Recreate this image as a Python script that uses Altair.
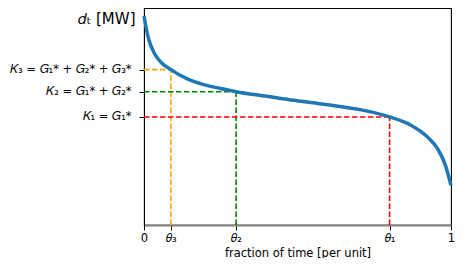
import altair as alt
import pandas as pd

# load duration curve samples (x: fraction of time, y: normalized demand)
curve_x = [0.0, 0.0137, 0.035, 0.056, 0.0876, 0.141, 0.194, 0.246, 0.30, 0.40, 0.469, 0.55, 0.638, 0.72, 0.80, 0.871, 0.924, 0.956, 0.982, 1.0]
curve_y = [0.963, 0.864, 0.788, 0.749, 0.716, 0.673, 0.647, 0.630, 0.614, 0.593, 0.578, 0.563, 0.546, 0.527, 0.498, 0.459, 0.405, 0.352, 0.275, 0.183]

levels = ["K3", "K2", "K1"]
level_y = [0.716, 0.614, 0.498]
thetas = [0.0876, 0.30, 0.80]
level_colors = ["#FFA500", "#008000", "#FF0000"]

y_labels = ["𝐾₃ = 𝐺₁* + 𝐺₂* + 𝐺₃*", "𝐾₂ = 𝐺₁* + 𝐺₂*", "𝐾₁ = 𝐺₁*"]
x_tick_vals = [0.0, thetas[0], thetas[1], thetas[2], 1.0]
x_tick_labels = ["0", "𝜃₃", "𝜃₂", "𝜃₁", "1"]

curve = pd.DataFrame({"x": curve_x, "y": curve_y})

seg_rows = []
for name, k, th in zip(levels, level_y, thetas):
    seg_rows.append({"lvl": name, "x": 0.0, "x2": th, "y": k, "y2": k})
    seg_rows.append({"lvl": name, "x": th, "x2": th, "y": 0.0, "y2": k})
segs = pd.DataFrame(seg_rows)

def label_expr(vals, labels, default="''"):
    expr = default
    for v, l in zip(vals, labels):
        expr = f"abs(datum.value - {v}) < 0.005 ? '{l}' : " + expr
    return expr

xscale = alt.Scale(domain=[0, 1], nice=False, zero=False)
yscale = alt.Scale(domain=[0, 1], nice=False, zero=False)

x_axis = alt.Axis(
    values=x_tick_vals,
    labelExpr=label_expr(x_tick_vals, x_tick_labels),
    labelFlush=False,
    title="fraction of time [per unit]",
    titleBaseline="alphabetic",
    titleY=31,
    grid=False,
    domainColor="#808080",
    domainWidth=2,
    tickColor="black",
    tickSize=5,
    labelFont="DejaVu Sans",
    labelFontSize=11.5,
    labelColor="black",
    labelPadding=2,
    titleFont="DejaVu Sans",
    titleFontSize=11.5,
    titleFontWeight="normal",
    titleColor="black",
)

y_axis = alt.Axis(
    values=level_y,
    labelExpr=label_expr(level_y, y_labels),
    title="𝑑ₜ [MW]",
    titleAngle=0,
    titleAlign="right",
    titleBaseline="alphabetic",
    titleX=-9,
    titleY=15,
    titleFont="DejaVu Sans",
    titleFontSize=15,
    titleFontWeight="normal",
    titleColor="black",
    grid=False,
    domainColor="black",
    tickColor="black",
    tickSize=5,
    labelFont="DejaVu Sans",
    labelFontSize=11.5,
    labelColor="black",
    labelPadding=8,
)

line = alt.Chart(curve).mark_line(color="#1f77b4", strokeWidth=3.5, interpolate="monotone").encode(
    x=alt.X("x:Q", scale=xscale, axis=x_axis),
    y=alt.Y("y:Q", scale=yscale, axis=y_axis),
)

dash = alt.Chart(segs).mark_rule(strokeWidth=1.6, strokeDash=[5.5, 2.5]).encode(
    x=alt.X("x:Q", scale=xscale),
    x2="x2:Q",
    y=alt.Y("y:Q", scale=yscale),
    y2="y2:Q",
    color=alt.Color("lvl:N", scale=alt.Scale(domain=levels, range=level_colors), legend=None),
)

chart = alt.layer(dash, line).properties(
    width=307,
    height=217,
    autosize=alt.AutoSizeParams(type="none"),
    padding={"left": 136, "top": 0, "right": 4, "bottom": 33},
).configure_view(stroke="black", strokeWidth=1.1)

chart.save("out.html", embed_options={"renderer": "svg", "actions": False})
